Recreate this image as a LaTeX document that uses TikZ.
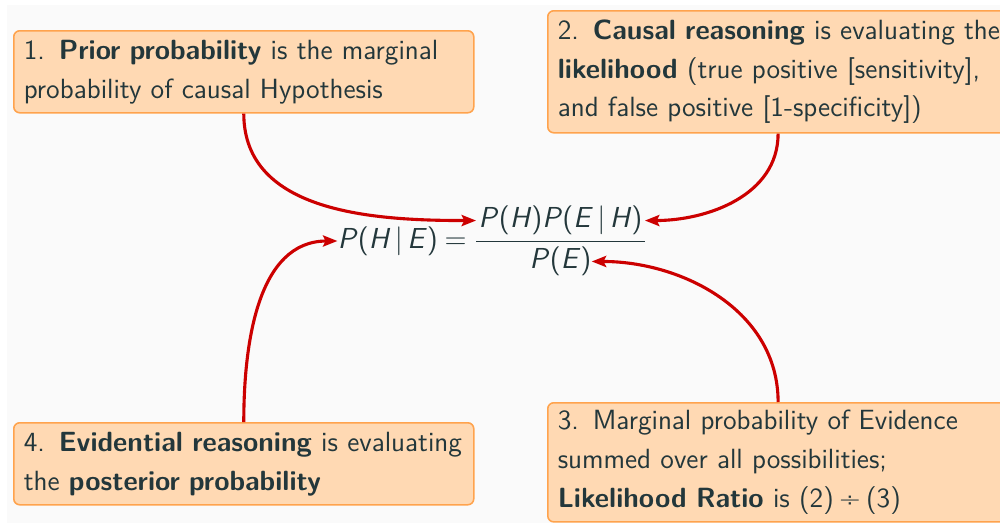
\documentclass[tikz,border=0pt]{standalone}
\usepackage{xcolor}
\usepackage{tikz}
\usetikzlibrary{arrows.meta, positioning}
\definecolor{boxfill}{RGB}{255,217,179}
\definecolor{boxline}{RGB}{255,163,77}
\definecolor{arrowred}{RGB}{204,0,0}
\definecolor{textdark}{RGB}{35,55,59}
\definecolor{slidebg}{RGB}{250,250,250}
\newcommand{\vr}[1]{\textit{#1}}
\newcommand{\given}{\kern2pt|\kern2pt}

\begin{document}
\begin{tikzpicture}[
    x=0.45pt, y=-0.45pt,
    >={Stealth[length=6.5pt, width=5pt, inset=1.2pt]},
    infobox/.style={draw=boxline, fill=boxfill, line width=0.7pt, rounded corners=2.7pt, anchor=north west, text width=198pt, inner xsep=4.5pt, inner ysep=0pt, align=left, text=textdark, font=\sffamily\fontsize{12.5}{17.5}\selectfont},
    widebox/.style={infobox, text width=220pt},
    mathpart/.style={text=textdark, inner sep=0pt, font=\sffamily\fontsize{13}{15}\selectfont},
    link/.style={->, arrowred, line width=1.4pt},
]
    \fill[white] (0,0) rectangle (1000,523);
    \fill[slidebg] (7,5) rectangle (1000,523);
    \useasboundingbox (0,0) rectangle (1000,523);

    \node[infobox, minimum height=36.9pt] (prior) at (13,30) {
        1.\enspace\textbf{Prior probability} is the marginal\\
        probability of causal Hypothesis
    };
    \node[widebox, minimum height=54.9pt] (causal) at (547,10) {
        2.\enspace\textbf{Causal reasoning} is evaluating the\\
        \textbf{likelihood} (true positive [sensitivity],\\
        and false positive [1-specificity])
    };
    \node[widebox, minimum height=53.6pt] (marginal) at (547,402) {
        3.\enspace Marginal probability of Evidence\\
        summed over all possibilities;\\
        \textbf{Likelihood Ratio} is (2)\kern2.5pt÷\kern2.5pt(3)
    };
    \node[infobox, minimum height=36.9pt] (evidential) at (13,422) {
        4.\enspace\textbf{Evidential reasoning} is evaluating\\
        the \textbf{posterior probability}
    };

    \node[mathpart, anchor=east] (post) at (467,241) {\vr{P}(\vr{H}\given\vr{E})\kern3pt=};
    \node[mathpart, inner xsep=1pt, inner ysep=2.5pt, anchor=south] (num) at (560.5,241) {\vr{P}(\vr{H})\vr{P}(\vr{E}\given\vr{H})};
    \node[mathpart, inner ysep=2.5pt, anchor=north] (den) at (num.south) {\vr{P}(\vr{E})};
    \draw[textdark, line width=0.4pt] (num.south west) -- (num.south east);

    \draw[link] (prior.south) to[out=-90, in=180] (num.west);
    \draw[link] ([xshift=104pt]causal.south west) to[out=-90, in=0] (num.east);
    \draw[link] ([xshift=104pt]marginal.north west) to[out=90, in=0] (den.east);
    \draw[link] (evidential.north) to[out=90, in=180] (post.west);
\end{tikzpicture}
\end{document}
